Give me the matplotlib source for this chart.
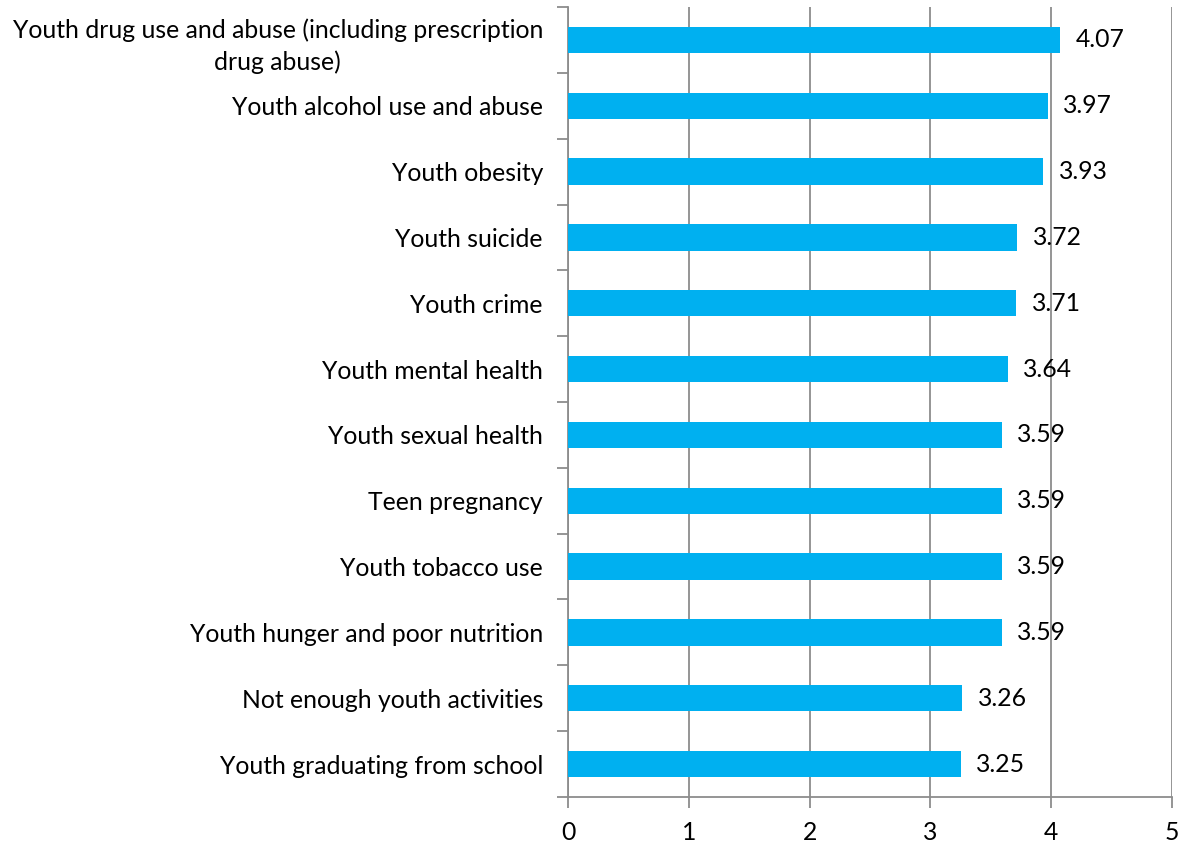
import matplotlib
matplotlib.use("Agg")
import matplotlib.pyplot as plt
import numpy as np

# data (top to bottom)
labels = ["Youth drug use and abuse (including prescription\ndrug abuse)",
          "Youth alcohol use and abuse",
          "Youth obesity",
          "Youth suicide",
          "Youth crime",
          "Youth mental health",
          "Youth sexual health",
          "Teen pregnancy",
          "Youth tobacco use",
          "Youth hunger and poor nutrition",
          "Not enough youth activities",
          "Youth graduating from school"]
values = [4.07, 3.97, 3.93, 3.72, 3.71, 3.64, 3.59, 3.59, 3.59, 3.59, 3.26, 3.25]
xticks = [0, 1, 2, 3, 4, 5]

plt.rcParams['font.family'] = ['Lato', 'DejaVu Sans']
grey = "#8c8c8c"
fs = 17.8

fig = plt.figure(figsize=(11.95, 8.44), dpi=100)
ax = fig.add_axes([0.4753, 0.0557, 0.9808 - 0.4753, 0.9917 - 0.0557])

n = len(labels)
y = np.arange(n)[::-1]
ax.barh(y, values, height=0.4, color="#00B0F0", zorder=3)
for yi, v in zip(y, values):
    ax.text(v + 0.13, yi, "%.2f" % v, va="center", ha="left", fontsize=fs, zorder=4)

ax.set_xlim(0, 5)
ax.set_ylim(-0.5, n - 0.5)
ax.set_xticks(xticks)
ax.set_xticklabels([str(t) for t in xticks], fontsize=fs)
ax.set_yticks(y)
ax.set_yticklabels(labels, fontsize=fs)
for lab in ax.get_yticklabels():
    lab.set_multialignment("center")
    lab.set_linespacing(1.45)
ax.set_yticks(np.arange(n + 1) - 0.5, minor=True)
ax.tick_params(axis="y", which="major", length=0, pad=18)
ax.tick_params(axis="y", which="minor", length=8, color=grey, width=1.3)
ax.tick_params(axis="x", length=8, color=grey, width=1.3, pad=9)

ax.grid(axis="x", color=grey, linewidth=1.3, zorder=0)
ax.set_axisbelow(True)
for s in ["top", "right"]:
    ax.spines[s].set_visible(False)
for s in ["left", "bottom"]:
    ax.spines[s].set_color(grey)
    ax.spines[s].set_linewidth(1.3)

fig.savefig("out.png", dpi=100)
